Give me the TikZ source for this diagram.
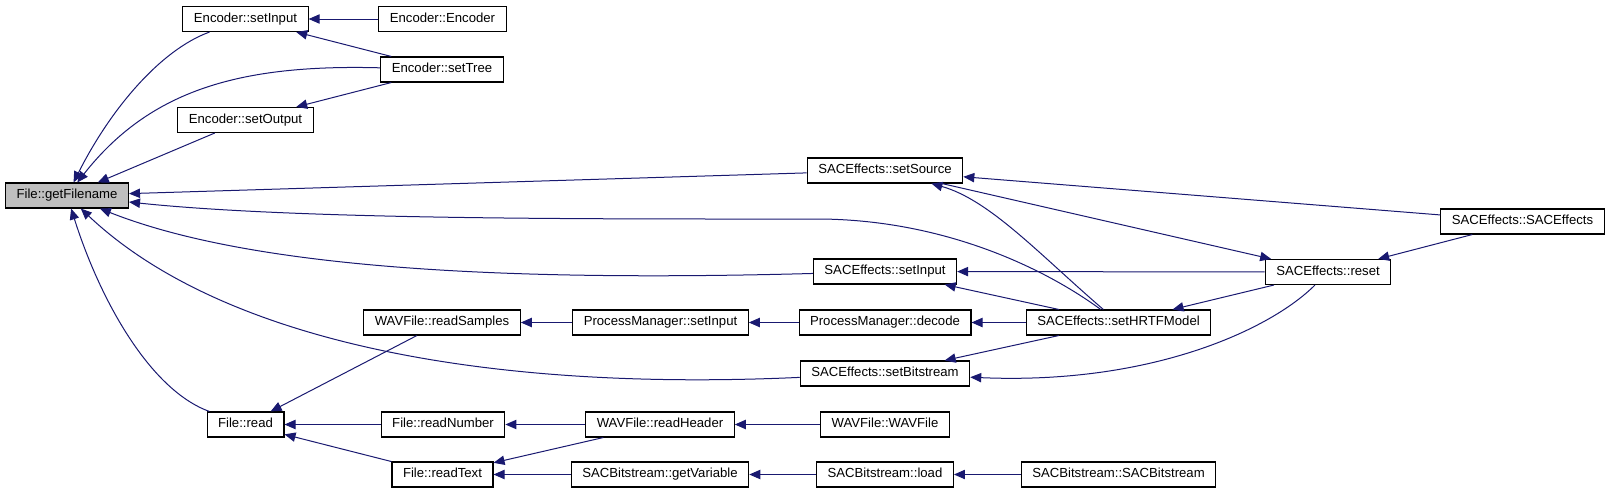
\documentclass[tikz,border=0pt]{standalone}
\usepackage{fontspec}
\setmainfont{Liberation Sans}
\usetikzlibrary{arrows.meta}
\definecolor{midnight}{HTML}{191970}
\definecolor{rootgray}{HTML}{BFBFBF}
\tikzset{box/.style={draw=black,fill=white,line width=0.8pt,minimum height=18.75pt,
 inner xsep=8.3pt,inner ysep=0pt,text height=7.1pt,text depth=1.9pt,font=\fontsize{9.86}{11}\selectfont},
 arr/.style={-{Triangle[length=8.25pt,width=7pt]},line width=0.75pt,draw=midnight}}
\begin{document}
\begin{tikzpicture}[x=0.75pt,y=-0.75pt]
\useasboundingbox (0,0) rectangle (1611,493);
\node[box,fill=rootgray] (gf) at (67,195.5) {File::getFilename};
\foreach \name/\x/\y/\label in {esi/245.5/19/Encoder::setInput,eenc/442.5/19/Encoder::Encoder,
 etree/442/69.5/Encoder::setTree,eout/245.5/120/Encoder::setOutput,
 ssrc/885/170.5/SACEffects::setSource,sctor/1522.5/221.5/SACEffects::SACEffects,
 sin/885/271.5/SACEffects::setInput,sreset/1328/272/SACEffects::reset,
 wsamp/442/322.5/WAVFile::readSamples,pmin/660.5/322.5/ProcessManager::setInput,
 pmdec/885/322.5/ProcessManager::decode,shrtf/1118.5/322.5/SACEffects::setHRTFModel,
 sbits/885/373.5/SACEffects::setBitstream,fread/245.5/424.5/File::read,
 fnum/443/424.5/File::readNumber,whead/660/424.5/WAVFile::readHeader,
 wctor/885/424.5/WAVFile::WAVFile,ftext/442.5/474.5/File::readText,
 bvar/660/474.5/SACBitstream::getVariable,bload/885/474.5/SACBitstream::load,
 bctor/1118.5/474.5/SACBitstream::SACBitstream}
 \node[box] (\name) at (\x,\y) {\label};
\foreach \a/\b in {eenc/esi,etree/esi,etree/eout,eout/gf,ssrc/gf,sctor/ssrc,ssrc/sreset,
 sctor/sreset,sreset/shrtf,sreset/sin,shrtf/sin,shrtf/sbits,shrtf/pmdec,pmdec/pmin,
 pmin/wsamp,wsamp/fread,fnum/fread,ftext/fread,whead/fnum,wctor/whead,whead/ftext,
 bvar/ftext,bload/bvar,bctor/bload}
 \draw[arr] (\a)--(\b);
\draw[arr] (esi) .. controls (160,50) and (110,110) .. (gf);
\draw[arr] (etree) .. controls (240,64) and (150,90) .. (gf);
\draw[arr] (shrtf) .. controls (1040,265) and (940,220) .. (820,219) .. controls (600,219) and (300,220) .. (gf);
\draw[arr] (sin) .. controls (500,282) and (250,268) .. (gf);
\draw[arr] (sbits) .. controls (480,392) and (220,340) .. (gf);
\draw[arr] (fread) .. controls (150,390) and (100,300) .. (gf);
\draw[arr] (shrtf) .. controls (1040,255) and (990,200) .. (ssrc);
\draw[arr] (sreset) .. controls (1270,330) and (1150,385) .. (sbits);
\end{tikzpicture}
\end{document}
